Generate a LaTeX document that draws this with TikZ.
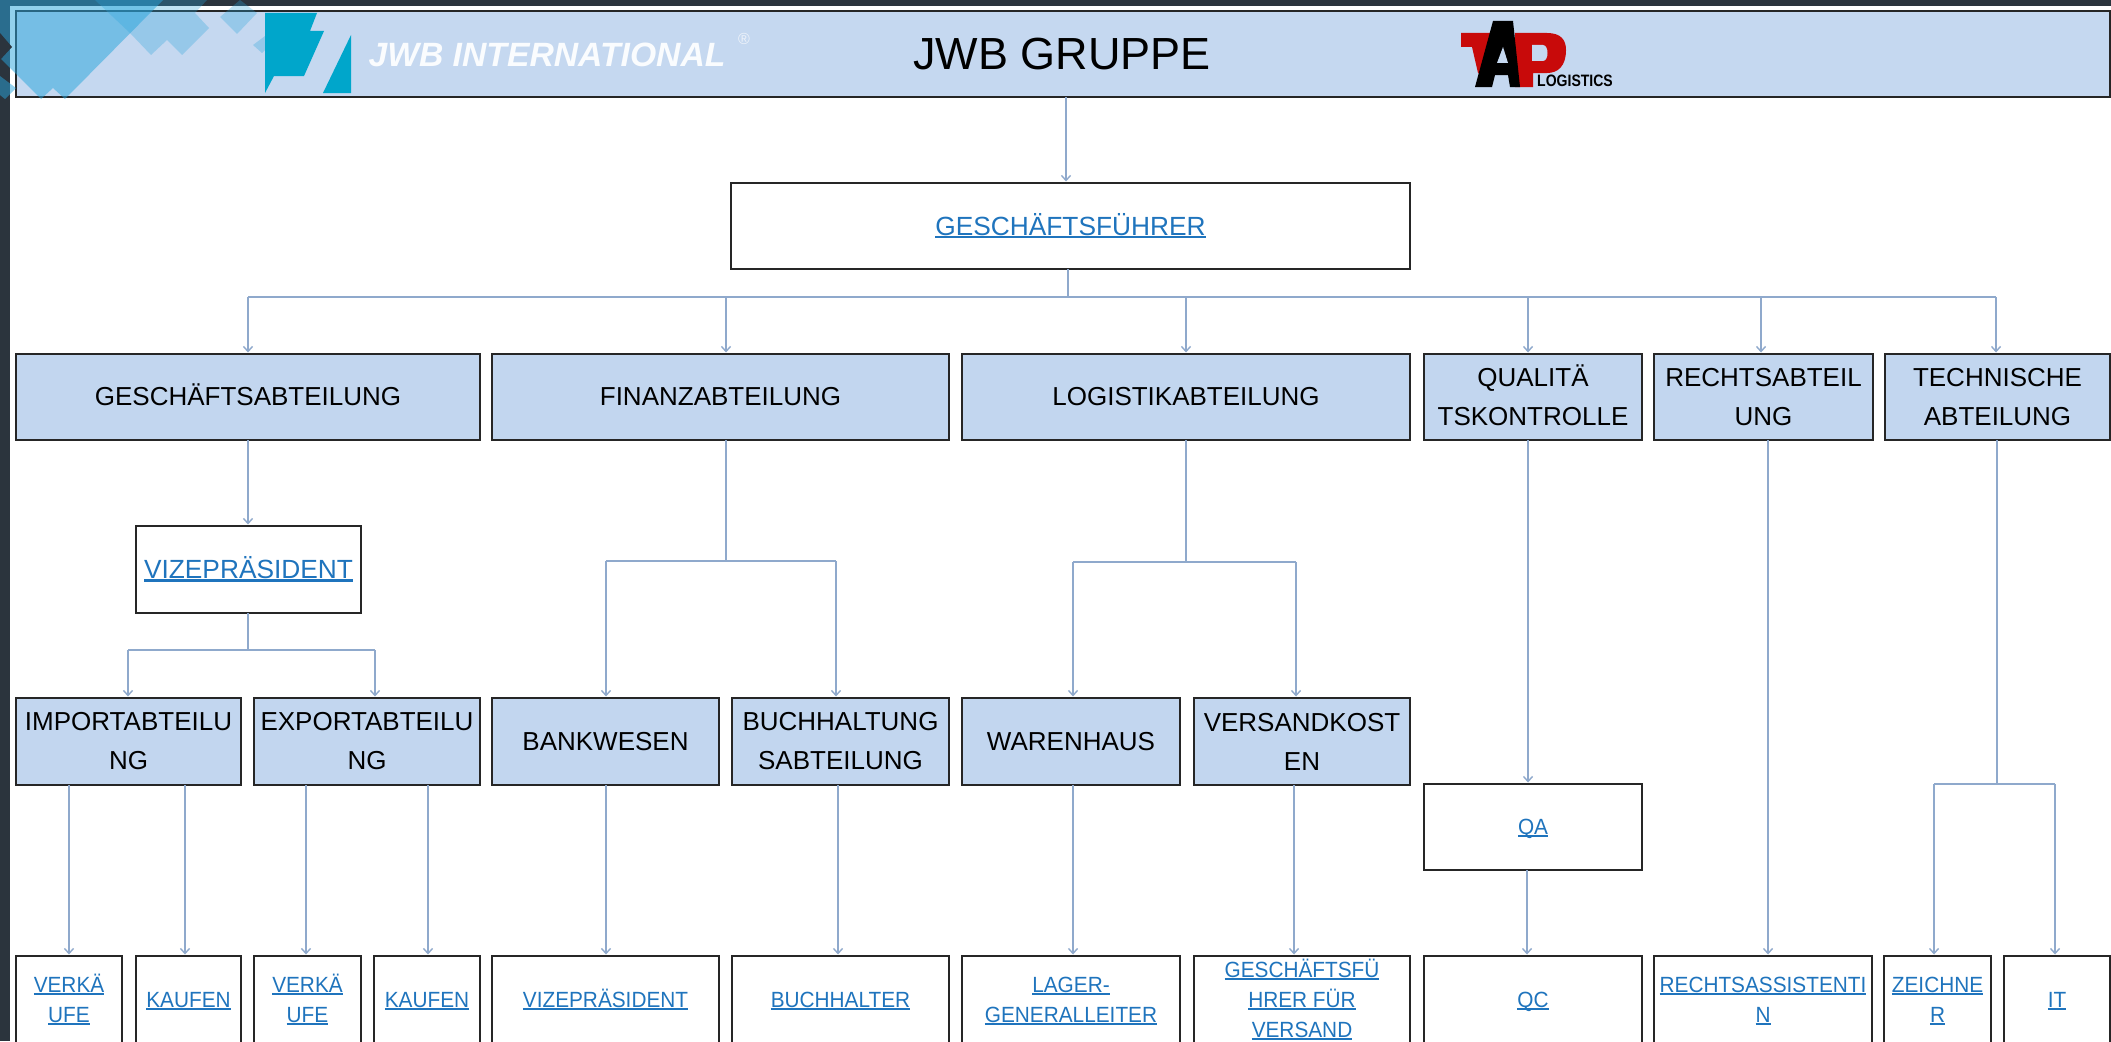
\documentclass[tikz,border=0pt]{standalone}
\usepackage{fontspec}
\setmainfont{Liberation Sans}
\newfontfamily\leaffont[FakeStretch=0.945]{Liberation Sans}
\usetikzlibrary{arrows.meta}
\definecolor{dark}{HTML}{2B343D}
\definecolor{hdrblue}{HTML}{C5D8F0}
\definecolor{boxblue}{HTML}{C2D6EF}
\definecolor{lnk}{HTML}{1F74BD}
\definecolor{conn}{HTML}{8FA9CC}
\definecolor{sky}{HTML}{2AA5DC}
\definecolor{logoblue}{HTML}{00A6CB}
\definecolor{tapred}{HTML}{C80A0A}
\newcommand\pl[1]{\vphantom{H}\smash{#1}}
\newcommand\lk[1]{\vphantom{H}\smash{\color{lnk}\setbox0=\hbox{#1}\copy0\llap{\rule[-.12em]{\wd0}{.1em}}}}
\newcommand\bx[7]{\node[#6, minimum width={(#4-#2)*1pt}, minimum height={(#5-#3)*1pt}] (#1) at ({(#2+#4)/2},{(#3+#5)/2}) {#7};}
\tikzset{
  anybox/.style={draw=black!85,line width=1.2pt,inner sep=0pt,outer sep=0pt,align=center},
  dept/.style={anybox,fill=boxblue,font=\fontsize{26}{39}\selectfont},
  ubox/.style={anybox,fill=white,font=\fontsize{26.3}{38}\selectfont},
  leaf/.style={anybox,fill=white,font=\leaffont\fontsize{22}{30}\selectfont},
  arr/.style={draw=conn,line width=1.4pt,-{Straight Barb[length=5pt,width=9pt]},shorten >=1.5pt},
  wire/.style={draw=conn,line width=1.4pt},
  softa/.style={fill=sky,fill opacity=.51,draw=none},
  softb/.style={fill=sky,fill opacity=.3,draw=none},
}
\begin{document}
\begin{tikzpicture}[x=1pt,y=-1pt]
\useasboundingbox (0,0) rectangle (2111,1041);
\clip (0,0) rectangle (2111,1041);
\fill[white] (0,0) rectangle (2111,1041);
\fill[dark] (0,0) rectangle (2111,6);
\fill[dark] (0,0) rectangle (10,1041);
% header
\bx{hdr}{16}{11}{2110}{97}{anybox,fill=hdrblue}{}
\node[font=\fontsize{45}{50}\selectfont] (title) at (1062,54) {JWB GRUPPE};
% decoration
\fill[softa] (0,0) -- (163,0) -- (65,99) -- (53,88) -- (41,99) -- (0,58) -- cycle;
\fill[softb] (95,0) -- (130,33) -- (151,55) -- (167,40) -- (182,55) -- (209,28) -- (195,13) -- (207,0) -- cycle;
\fill[softb] (240,0) -- (257,13) -- (237,34) -- (220,17) -- cycle;
\fill[softb] (265,36) -- (253,45) -- (262,53) -- (265,50) -- cycle;
\fill[dark] (0,33) -- (12,47) -- (0,60) -- cycle;
\fill[dark] (0,60) -- (10,70) -- (0,82) -- cycle;
\fill[sky,fill opacity=.5] (0,76) -- (16,88) -- (5,99) -- (0,95) -- cycle;
% JWB logo
\fill[logoblue] (265,13) -- (317,13) -- (310,31) -- (324,31) -- (304,76) -- (274,76) -- (265,93) -- cycle;
\fill[logoblue] (351,35) -- (351,93) -- (323,93) -- cycle;
\node[text=white!92!hdrblue,font=\fontsize{33.7}{36}\bfseries\itshape] (jwb) at (547,55) {JWB INTERNATIONAL};
\node[text=white!70!hdrblue,font=\fontsize{16}{16}\selectfont] (reg) at (744,39) {®};
% TAP logo
\fill[tapred] (1461,33) -- (1497,33) -- (1492,47) -- (1485,77) -- (1478,73) -- (1472,47) -- (1461,47) -- cycle;
\fill[tapred] (1515,33) -- (1547,33) .. controls (1561,33) and (1566,40) .. (1566,50) .. controls (1566,66) and (1558,73) .. (1547,73) -- (1533,73) -- (1533,87) -- (1515,87) -- cycle;
\fill[hdrblue] (1532,45) -- (1543,45) .. controls (1549,45) and (1549,61) .. (1543,61) -- (1532,61) -- cycle;
\fill[black] (1493,21) -- (1513,21) -- (1520,87) -- (1510,87) -- (1508,75) -- (1495,75) -- (1492,87) -- (1475,87) -- cycle;
\fill[hdrblue] (1503,47) -- (1497,63) -- (1508,63) -- cycle;
\node[font=\fontsize{16.5}{17}\bfseries,xscale=.85,inner sep=0pt] (tap) at (1575,81) {LOGISTICS};
% level 1
\bx{ceo}{731}{183}{1410}{269}{ubox}{\lk{GESCHÄFTSFÜHRER}}
% level 2
\bx{gesch}{16}{354}{480}{440}{dept}{\pl{GESCHÄFTSABTEILUNG}}
\bx{fin}{492}{354}{949}{440}{dept}{FINANZABTEILUNG}
\bx{log}{962}{354}{1410}{440}{dept}{LOGISTIKABTEILUNG}
\bx{qual}{1424}{354}{1642}{440}{dept}{\pl{QUALITÄ}\\TSKONTROLLE}
\bx{recht}{1654}{354}{1873}{440}{dept}{RECHTSABTEIL\\UNG}
\bx{tech}{1885}{354}{2110}{440}{dept}{TECHNISCHE\\ABTEILUNG}
\bx{vize}{136}{526}{361}{613}{ubox}{\lk{VIZEPRÄSIDENT}}
% level 3
\bx{imp}{16}{698}{241}{785}{dept}{IMPORTABTEILU\\NG}
\bx{exp}{254}{698}{480}{785}{dept}{EXPORTABTEILU\\NG}
\bx{bank}{492}{698}{719}{785}{dept}{BANKWESEN}
\bx{buch}{732}{698}{949}{785}{dept}{BUCHHALTUNG\\SABTEILUNG}
\bx{waren}{962}{698}{1180}{785}{dept}{WARENHAUS}
\bx{vers}{1194}{698}{1410}{785}{dept}{VERSANDKOST\\EN}
\bx{qa}{1424}{784}{1642}{870}{leaf}{\lk{QA}}
% level 4
\bx{vk}{16}{956}{122}{1043}{leaf}{\lk{VERKÄ}\\\lk{UFE}}
\bx{ka}{136}{956}{241}{1043}{leaf}{\lk{KAUFEN}}
\bx{vkb}{254}{956}{361}{1043}{leaf}{\lk{VERKÄ}\\\lk{UFE}}
\bx{kab}{374}{956}{480}{1043}{leaf}{\lk{KAUFEN}}
\bx{vp}{492}{956}{719}{1043}{leaf}{\lk{VIZEPRÄSIDENT}}
\bx{bh}{732}{956}{949}{1043}{leaf}{\lk{BUCHHALTER}}
\bx{lg}{962}{956}{1180}{1043}{leaf}{\lk{LAGER-}\\\lk{GENERALLEITER}}
\bx{gv}{1194}{956}{1410}{1043}{leaf}{\lk{GESCHÄFTSFÜ}\\\lk{HRER FÜR}\\\lk{VERSAND}}
\bx{qc}{1424}{956}{1642}{1043}{leaf}{\lk{QC}}
\bx{ra}{1654}{956}{1872}{1043}{leaf}{\lk{RECHTSASSISTENTI}\\\lk{N}}
\bx{ze}{1884}{956}{1991}{1043}{leaf}{\lk{ZEICHNE}\\\lk{R}}
\bx{it}{2004}{956}{2110}{1043}{leaf}{\lk{IT}}
% bus and column coordinates
\coordinate (xhdr) at (1066,0);
\coordinate (xceo) at (1068,0);
\coordinate (busceo) at (1068,297);
\coordinate (bgesch) at (248,297);
\coordinate (bfin) at (726,297);
\coordinate (blog) at (1186,297);
\coordinate (bqual) at (1528,297);
\coordinate (brecht) at (1761,297);
\coordinate (btech) at (1996,297);
\coordinate (jvize) at (248,650);
\coordinate (bimp) at (128,650);
\coordinate (bexp) at (375,650);
\coordinate (jfin) at (726,561);
\coordinate (bbank) at (606,561);
\coordinate (bbuch) at (836,561);
\coordinate (jlog) at (1186,562);
\coordinate (bwar) at (1073,562);
\coordinate (bvers) at (1296,562);
\coordinate (jtech) at (1997,784);
\coordinate (bze) at (1934,784);
\coordinate (bit) at (2055,784);
\coordinate (x1) at (69,0);
\coordinate (x2) at (185,0);
\coordinate (x3) at (306,0);
\coordinate (x4) at (428,0);
\coordinate (x5) at (606,0);
\coordinate (x6) at (838,0);
\coordinate (x7) at (1073,0);
\coordinate (x8) at (1294,0);
\coordinate (x9) at (1528,0);
\coordinate (x10) at (1527,0);
\coordinate (x11) at (1768,0);
% connectors
\draw[arr] (hdr.south -| xhdr) -- (ceo.north -| xhdr);
\draw[wire] (ceo.south -| xceo) -- (busceo);
\draw[wire] (bgesch) -- (btech);
\foreach \s/\t in {bgesch/gesch,bfin/fin,blog/log,bqual/qual,brecht/recht,btech/tech}
  \draw[arr] (\s) -- (\t.north -| \s);
\draw[arr] (gesch.south -| bgesch) -- (vize.north -| bgesch);
\draw[wire] (vize.south -| jvize) -- (jvize);
\draw[wire] (bimp) -- (bexp);
\draw[arr] (bimp) -- (imp.north -| bimp);
\draw[arr] (bexp) -- (exp.north -| bexp);
\draw[wire] (fin.south -| jfin) -- (jfin);
\draw[wire] (bbank) -- (bbuch);
\draw[arr] (bbank) -- (bank.north -| bbank);
\draw[arr] (bbuch) -- (buch.north -| bbuch);
\draw[wire] (log.south -| jlog) -- (jlog);
\draw[wire] (bwar) -- (bvers);
\draw[arr] (bwar) -- (waren.north -| bwar);
\draw[arr] (bvers) -- (vers.north -| bvers);
\draw[arr] (imp.south -| x1) -- (vk.north -| x1);
\draw[arr] (imp.south -| x2) -- (ka.north -| x2);
\draw[arr] (exp.south -| x3) -- (vkb.north -| x3);
\draw[arr] (exp.south -| x4) -- (kab.north -| x4);
\draw[arr] (bank.south -| x5) -- (vp.north -| x5);
\draw[arr] (buch.south -| x6) -- (bh.north -| x6);
\draw[arr] (waren.south -| x7) -- (lg.north -| x7);
\draw[arr] (vers.south -| x8) -- (gv.north -| x8);
\draw[arr] (qual.south -| x9) -- (qa.north -| x9);
\draw[arr] (qa.south -| x10) -- (qc.north -| x10);
\draw[arr] (recht.south -| x11) -- (ra.north -| x11);
\draw[wire] (tech.south -| jtech) -- (jtech);
\draw[wire] (bze) -- (bit);
\draw[arr] (bze) -- (ze.north -| bze);
\draw[arr] (bit) -- (it.north -| bit);
\end{tikzpicture}
\end{document}
